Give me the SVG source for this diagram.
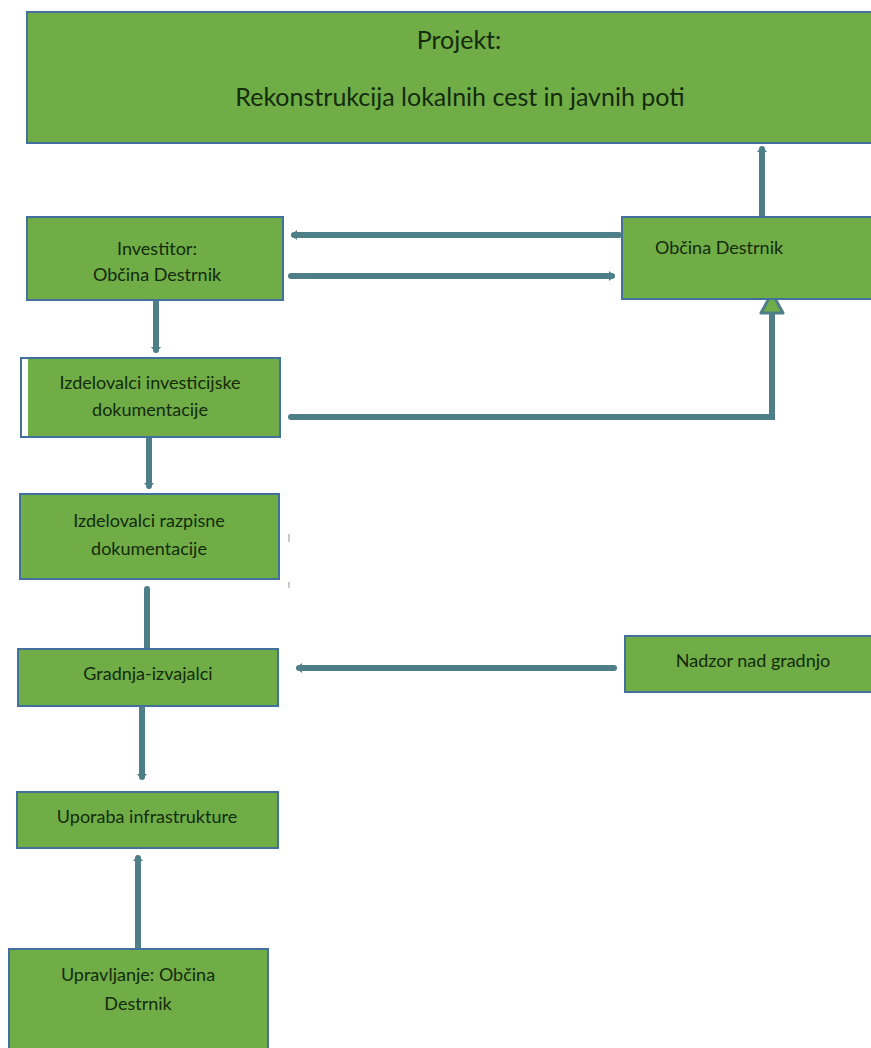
<svg xmlns="http://www.w3.org/2000/svg" width="871" height="1048" viewBox="0 0 871 1048">
<style>
.box{fill:#70AD47;stroke:#41719C;stroke-width:2}
.t{font-family:Lato,"Open Sans","Liberation Sans",sans-serif;font-size:18px;fill:#132b0b;text-anchor:middle}
.big{font-size:25px}
.c{fill:none;stroke:#4E7F88;stroke-width:6;stroke-linecap:round}
</style>
<defs>
<marker id="ah" markerUnits="userSpaceOnUse" markerWidth="12" markerHeight="12" refX="3" refY="6" orient="auto">
<path d="M0,1 L6,6 L0,11 Z" fill="#4E7F88"/>
</marker>
</defs>
<rect width="871" height="1048" fill="#ffffff"/>
<g id="connectors">
<line class="c" x1="762" y1="216" x2="762" y2="149" marker-end="url(#ah)"/>
<line class="c" x1="619" y1="235" x2="294" y2="235" marker-end="url(#ah)"/>
<line class="c" x1="291" y1="276" x2="612" y2="276" marker-end="url(#ah)"/>
<line class="c" x1="156" y1="301" x2="156" y2="350" marker-end="url(#ah)"/>
<polyline class="c" points="291,417 772,417 772,314"/>
<polygon points="772,293 761,313 783,313" fill="#70AD47" stroke="#4E7F88" stroke-width="3" stroke-linejoin="round"/>
<line class="c" x1="149" y1="438" x2="149" y2="486" marker-end="url(#ah)"/>
<line class="c" x1="147" y1="589" x2="147" y2="648"/>
<line class="c" x1="614" y1="668" x2="299" y2="668" marker-end="url(#ah)"/>
<line class="c" x1="142" y1="707" x2="142" y2="777" marker-end="url(#ah)"/>
<line class="c" x1="138" y1="948" x2="138" y2="858" marker-end="url(#ah)"/>
</g>
<g id="projekt">
<rect class="box" x="27" y="12" width="850" height="131"/>
<text class="t big" x="459" y="49">Projekt:</text>
<text class="t big" x="460" y="106">Rekonstrukcija lokalnih cest in javnih poti</text>
</g>
<g id="investitor">
<rect class="box" x="27" y="217" width="256" height="83"/>
<text class="t" x="157" y="255">Investitor:</text>
<text class="t" x="157" y="281">Občina Destrnik</text>
</g>
<g id="obcina">
<rect class="box" x="622" y="217" width="255" height="82"/>
<text class="t" x="719" y="254">Občina Destrnik</text>
</g>
<g id="investicijska">
<rect x="21" y="358" width="259" height="79" fill="#ffffff" stroke="#41719C" stroke-width="2"/>
<rect x="28" y="359" width="251" height="77" fill="#70AD47"/>
<text class="t" x="150" y="389">Izdelovalci investicijske</text>
<text class="t" x="150" y="416">dokumentacije</text>
</g>
<g id="razpisna">
<rect class="box" x="20" y="494" width="259" height="85"/>
<text class="t" x="149" y="527">Izdelovalci razpisne</text>
<text class="t" x="149" y="555">dokumentacije</text>
</g>
<line x1="289" y1="534" x2="289" y2="542" stroke="#b8b8b8" stroke-width="1.5"/>
<line x1="289" y1="582" x2="289" y2="588" stroke="#b8b8b8" stroke-width="1.5"/>
<g id="gradnja">
<rect class="box" x="18" y="649" width="260" height="57"/>
<text class="t" x="148" y="680">Gradnja-izvajalci</text>
</g>
<g id="nadzor">
<rect class="box" x="625" y="636" width="252" height="56"/>
<text class="t" x="753" y="667">Nadzor nad gradnjo</text>
</g>
<g id="uporaba">
<rect class="box" x="17" y="792" width="261" height="56"/>
<text class="t" x="147" y="823">Uporaba infrastrukture</text>
</g>
<g id="upravljanje">
<rect class="box" x="9" y="949" width="259" height="105"/>
<text class="t" x="138" y="981">Upravljanje: Občina</text>
<text class="t" x="138" y="1010">Destrnik</text>
</g>
</svg>
